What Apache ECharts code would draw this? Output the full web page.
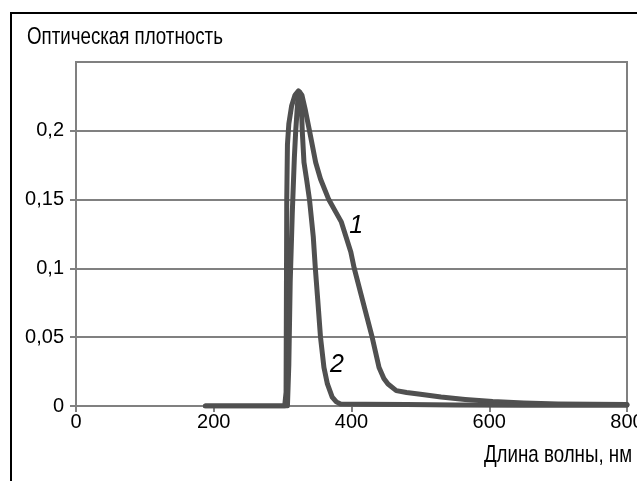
<!DOCTYPE html>
<html>
<head>
<meta charset="utf-8">
<script src="https://cdn.jsdelivr.net/npm/echarts@6/dist/echarts.min.js"></script>
<style>
  html, body { margin: 0; padding: 0; background: #fff; }
  #chart { width: 637px; height: 481px; }
</style>
</head>
<body>
<div id="chart"></div>
<script>
// подписи
var yTitle = 'Оптическая плотность';
var xTitle = 'Длина волны, нм';
var curveNames = ['1', '2'];

// шкалы
var xTicks = [0, 200, 400, 600, 800];
var yTicks = [0, 0.05, 0.1, 0.15, 0.2, 0.25];

// кривая 1 (широкая полоса)
var wave1 = [188, 303, 305, 306, 307, 309, 313, 318, 323, 328, 333, 339, 348, 355, 367, 376, 385, 392, 399, 404, 416, 430, 440, 447, 453, 465, 480, 500, 530, 565, 605, 650, 700, 750, 800];
var dens1 = [0, 0, 0.01, 0.15, 0.19, 0.205, 0.218, 0.226, 0.229, 0.226, 0.215, 0.2, 0.177, 0.165, 0.15, 0.142, 0.134, 0.123, 0.112, 0.1, 0.077, 0.05, 0.028, 0.02, 0.016, 0.0112, 0.0098, 0.0085, 0.0065, 0.0048, 0.0033, 0.0022, 0.0015, 0.0012, 0.001];

// кривая 2 (узкая полоса)
var wave2 = [188, 307, 309, 311, 314, 317, 319, 322, 325, 327, 328.5, 331, 335, 339, 344.5, 347.5, 351, 355, 360, 365, 372, 378, 384, 420, 480, 550, 650, 800];
var dens2 = [0, 0, 0.03, 0.09, 0.14, 0.18, 0.2, 0.222, 0.228, 0.222, 0.2, 0.177, 0.164, 0.15, 0.123, 0.1, 0.077, 0.05, 0.028, 0.016, 0.0065, 0.003, 0.0015, 0.0012, 0.001, 0.0008, 0.0006, 0.0005];

// места подписей кривых (в единицах осей)
var nameAt1 = [407, 0.131];
var nameAt2 = [379, 0.030];

var FONT = '"Liberation Sans", Arial, sans-serif';
var LINE = '#505050';
var GRID = '#808080';

function pairs(xs, ys) {
  return xs.map(function (x, i) { return [x, ys[i]]; });
}

function curveTag(text, at) {
  return {
    symbol: 'circle',
    symbolSize: 1,
    silent: true,
    itemStyle: { color: 'transparent' },
    label: {
      show: true,
      position: 'inside',
      formatter: text,
      color: '#000',
      fontFamily: FONT,
      fontSize: 25,
      fontStyle: 'italic'
    },
    data: [{ coord: at }]
  };
}

var chart = echarts.init(document.getElementById('chart'));

var option = {
  animation: false,
  backgroundColor: '#fff',
  grid: {
    left: 76,
    right: 10,
    top: 62,
    bottom: 75,
    outerBoundsMode: 'none',
    show: true,
    borderColor: GRID,
    borderWidth: 2
  },
  graphic: [
    {
      type: 'rect',
      shape: { x: 11, y: 13, width: 700, height: 600 },
      style: { fill: 'none', stroke: '#000', lineWidth: 2 },
      silent: true
    },
    {
      // текст в оригинале узкий — сжимаем по ширине
      type: 'text',
      x: 27,
      y: 25,
      scaleX: 0.78,
      style: { text: yTitle, fill: '#000', font: '24px ' + FONT, textVerticalAlign: 'top' }
    },
    {
      type: 'text',
      x: 632,
      y: 443,
      scaleX: 0.78,
      style: { text: xTitle, fill: '#000', font: '24px ' + FONT, textAlign: 'right', textVerticalAlign: 'top' }
    }
  ],
  xAxis: {
    type: 'value',
    min: xTicks[0],
    max: xTicks[xTicks.length - 1],
    interval: xTicks[1] - xTicks[0],
    axisLine: { show: true, lineStyle: { color: GRID, width: 2 } },
    axisTick: { show: true, length: 6, lineStyle: { color: GRID, width: 2 } },
    splitLine: { show: false },
    axisLabel: { color: '#000', fontFamily: FONT, fontSize: 20, margin: 6 }
  },
  yAxis: {
    type: 'value',
    min: yTicks[0],
    max: yTicks[yTicks.length - 1],
    interval: yTicks[1] - yTicks[0],
    axisLine: { show: true, lineStyle: { color: GRID, width: 2 } },
    axisTick: { show: true, length: 6, lineStyle: { color: GRID, width: 2 } },
    splitLine: { show: true, lineStyle: { color: GRID, width: 2 } },
    axisLabel: {
      color: '#000',
      fontFamily: FONT,
      fontSize: 20,
      margin: 12,
      showMaxLabel: false,
      formatter: function (v) {
        return String(+v.toFixed(2)).replace('.', ',');
      }
    }
  },
  series: [
    {
      name: curveNames[0],
      type: 'line',
      data: pairs(wave1, dens1),
      symbol: 'none',
      lineStyle: { color: LINE, width: 5, join: 'round', cap: 'round' },
      markPoint: curveTag(curveNames[0], nameAt1)
    },
    {
      name: curveNames[1],
      type: 'line',
      data: pairs(wave2, dens2),
      symbol: 'none',
      lineStyle: { color: LINE, width: 5, join: 'round', cap: 'round' },
      markPoint: curveTag(curveNames[1], nameAt2)
    }
  ]
};

chart.setOption(option);
</script>
</body>
</html>
